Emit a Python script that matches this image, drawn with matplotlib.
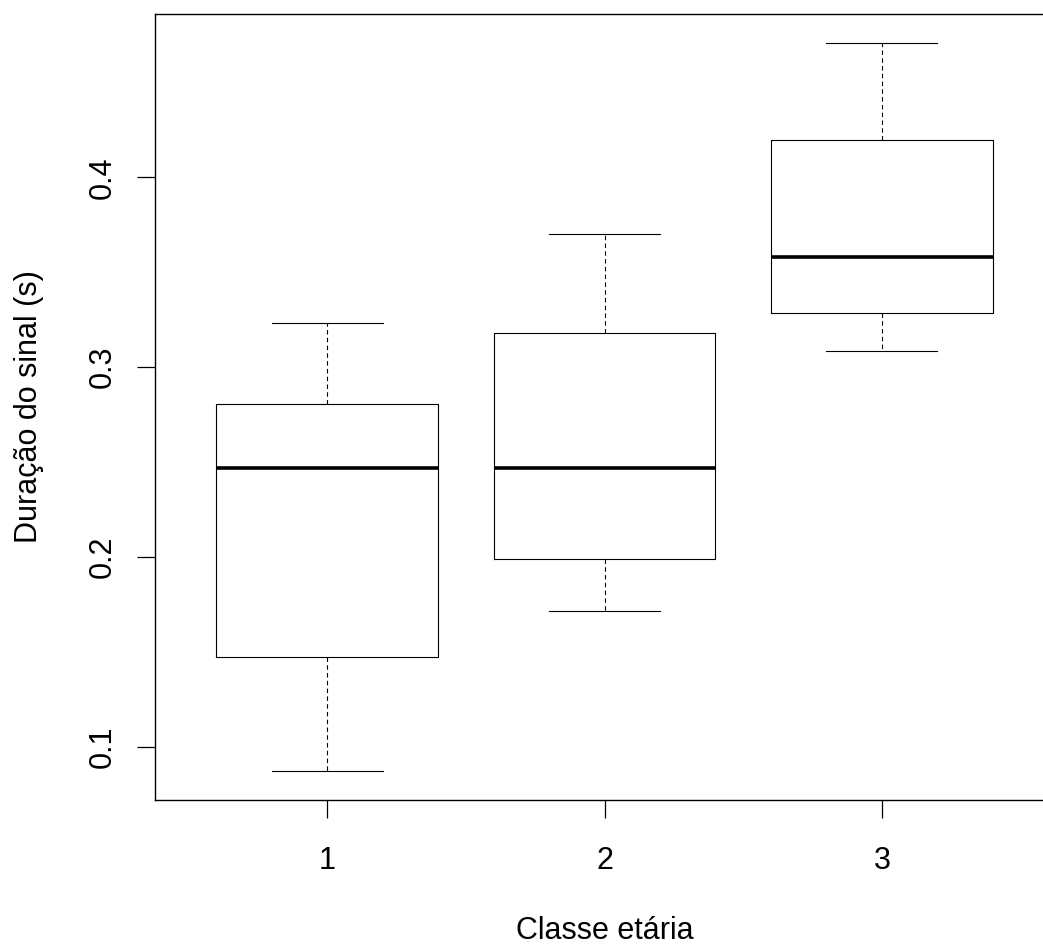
import matplotlib
matplotlib.use("Agg")
import matplotlib.pyplot as plt

plt.rcParams['font.family'] = ['Liberation Sans', 'DejaVu Sans']

classes = ["1", "2", "3"]
whisker_low = [0.0873, 0.1718, 0.3087]
q1 = [0.1475, 0.1988, 0.3287]
median = [0.2469, 0.2469, 0.3583]
q3 = [0.2807, 0.3180, 0.4196]
whisker_high = [0.3235, 0.3700, 0.4708]

stats = []
for i, c in enumerate(classes):
    stats.append(dict(label=c, whislo=whisker_low[i], q1=q1[i], med=median[i],
                      q3=q3[i], whishi=whisker_high[i], fliers=[]))

fig = plt.figure(figsize=(10.43, 9.51), dpi=100)
ax = fig.add_axes([155 / 1043, 1 - 800 / 951, 899 / 1043, 786 / 951])

lw = 0.8
ax.bxp(stats, positions=[1, 2, 3], widths=0.8, capwidths=0.4, showfliers=False,
       boxprops=dict(color="black", linewidth=lw),
       whiskerprops=dict(color="black", linewidth=lw, linestyle=(0, (4, 3))),
       capprops=dict(color="black", linewidth=lw),
       medianprops=dict(color="black", linewidth=2.6, solid_capstyle="butt"))

ax.set_xlim(0.38, 3.62)
ax.set_ylim(0.0720, 0.4861)
ax.set_yticks([0.1, 0.2, 0.3, 0.4])
ax.set_yticklabels(["0.1", "0.2", "0.3", "0.4"], rotation=90, va="center")
ax.set_xticks([1, 2, 3])
ax.set_xticklabels(classes)

for s in ax.spines.values():
    s.set_linewidth(1.0)
ax.tick_params(axis="both", length=13, width=0.9, labelsize=22, direction="out")
ax.tick_params(axis="x", pad=20)
ax.tick_params(axis="y", pad=14)

ax.set_xlabel("Classe etária", fontsize=22, labelpad=29)
ax.set_ylabel("Duração do sinal (s)", fontsize=22, labelpad=31)

fig.savefig("out.png", dpi=100)
